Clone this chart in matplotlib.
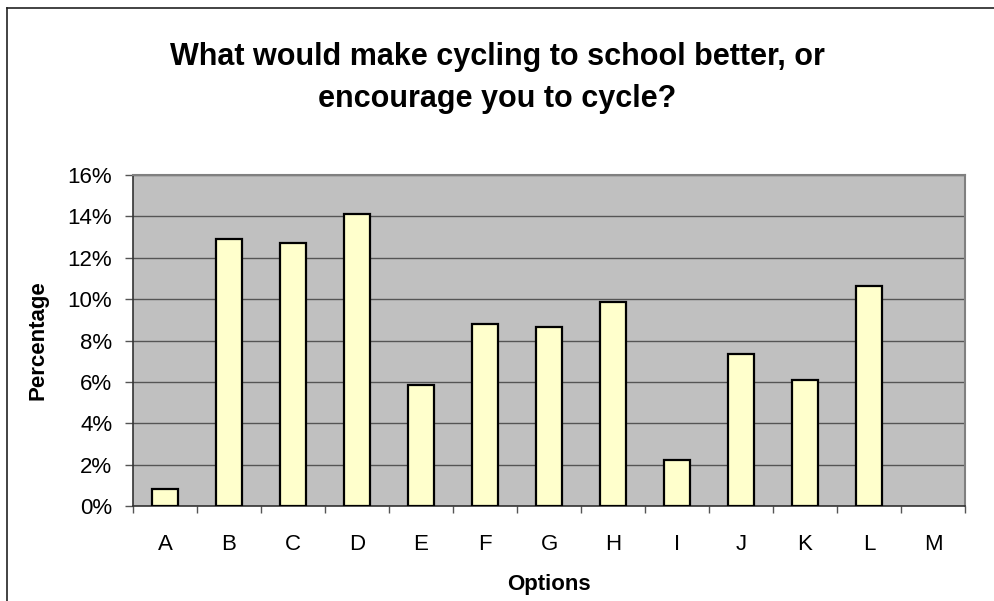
import matplotlib.pyplot as plt
from matplotlib.lines import Line2D
from matplotlib.ticker import FuncFormatter, NullFormatter
import numpy as np

plt.rcParams['font.family'] = ['Liberation Sans', 'DejaVu Sans']

# ========== data ==========
options = ["A", "B", "C", "D", "E", "F", "G", "H", "I", "J", "K", "L", "M"]
percentages = [0.8, 12.9, 12.7, 14.1, 5.85, 8.8, 8.65, 9.85, 2.2, 7.35, 6.1, 10.65, 0.0]
y_ticks = [0, 2, 4, 6, 8, 10, 12, 14, 16]

W, H = 994, 601
fig = plt.figure(figsize=(W / 100, H / 100), dpi=100)
ax = fig.add_axes([133 / W, 1 - 506 / H, (965 - 133) / W, (506 - 175) / H])

x = np.arange(len(options))
edge_w = [1.6 if p > 0 else 0 for p in percentages]  # empty bar draws nothing
ax.bar(x, percentages, width=0.41, color="#FFFFCC", edgecolor="black", linewidth=edge_w, zorder=3)

ax.set_facecolor("#C0C0C0")
ax.set_xlim(-0.5, len(options) - 0.5)
ax.set_ylim(0, 16)
ax.set_yticks(y_ticks)
ax.yaxis.set_major_formatter(FuncFormatter(lambda v, p: f"{int(v)}%"))
ax.grid(axis="y", color="#555555", linewidth=1.0, zorder=1)

# ticks between categories, labels centred
ax.set_xticks(np.arange(len(options) + 1) - 0.5)
ax.xaxis.set_major_formatter(NullFormatter())
ax.set_xticks(x, minor=True)
ax.set_xticklabels(options, minor=True)
ax.tick_params(axis="x", which="minor", length=0, pad=20, labelsize=16)
ax.tick_params(axis="x", which="major", length=5, width=1, color="#555555", direction="out")
ax.tick_params(axis="y", length=6, width=1, color="#555555", labelsize=16, pad=9)

for side in ["top", "right"]:
    ax.spines[side].set_color("#808080")
    ax.spines[side].set_linewidth(1.5)
for side in ["left", "bottom"]:
    ax.spines[side].set_color("#333333")
    ax.spines[side].set_linewidth(1.2)

ax.set_xlabel("Options", fontsize=16, fontweight="bold", labelpad=14)
ax.set_ylabel("Percentage", fontsize=16, fontweight="bold", labelpad=14)

fig.text(0.5, 1 - 78 / H, "What would make cycling to school better, or\nencourage you to cycle?",
         ha="center", va="center", fontsize=22, fontweight="bold", linespacing=1.5)

# outer chart frame (cropped on right/bottom)
fig.add_artist(Line2D([7 / W, 7 / W], [0, 1 - 8 / H], color="#222222", linewidth=1.2))
fig.add_artist(Line2D([7 / W, 1], [1 - 8 / H, 1 - 8 / H], color="#222222", linewidth=1.2))

fig.savefig("out.png", dpi=100)
